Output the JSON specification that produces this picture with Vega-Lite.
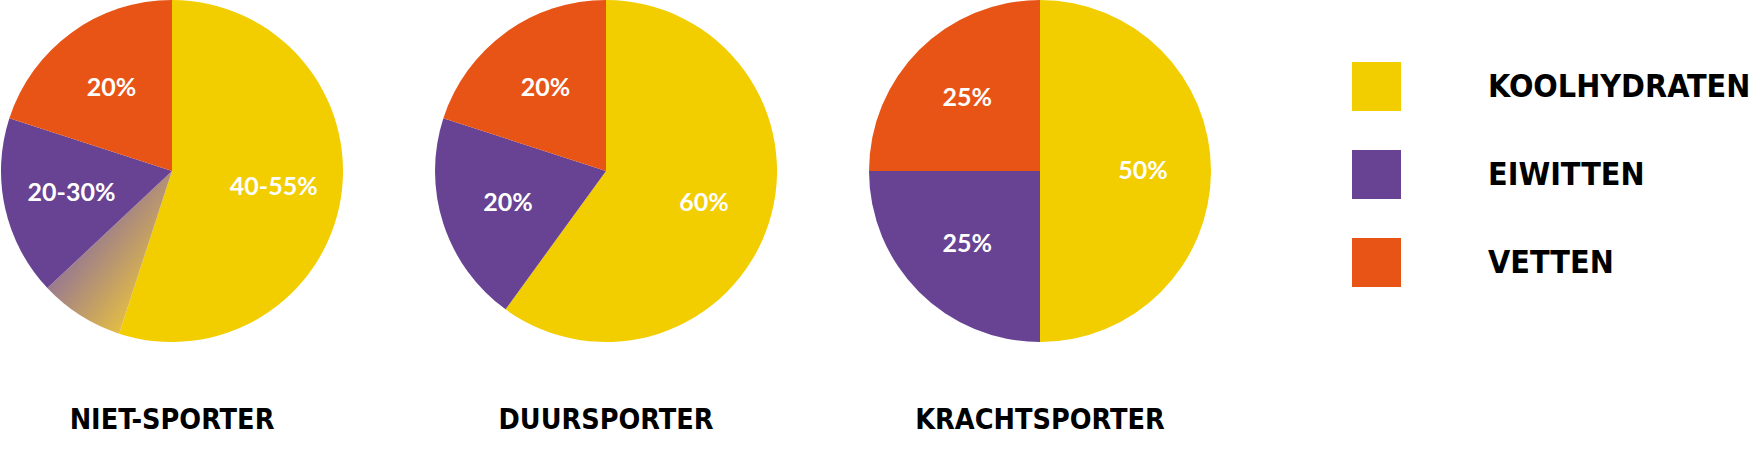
{
  "$schema": "https://vega.github.io/schema/vega-lite/v6.json",
  "background": "white",
  "padding": 0,
  "data": {
    "values": [
      {"groep": "NIET-SPORTER", "categorie": "KOOLHYDRATEN", "waarde": 55, "label": "40-55%", "volgorde": 1},
      {"groep": "NIET-SPORTER", "categorie": "overgang", "waarde": 8, "label": "", "volgorde": 2},
      {"groep": "NIET-SPORTER", "categorie": "EIWITTEN", "waarde": 17, "label": "20-30%", "volgorde": 3},
      {"groep": "NIET-SPORTER", "categorie": "VETTEN", "waarde": 20, "label": "20%", "volgorde": 4},
      {"groep": "DUURSPORTER", "categorie": "KOOLHYDRATEN", "waarde": 60, "label": "60%", "volgorde": 1},
      {"groep": "DUURSPORTER", "categorie": "EIWITTEN", "waarde": 20, "label": "20%", "volgorde": 3},
      {"groep": "DUURSPORTER", "categorie": "VETTEN", "waarde": 20, "label": "20%", "volgorde": 4},
      {"groep": "KRACHTSPORTER", "categorie": "KOOLHYDRATEN", "waarde": 50, "label": "50%", "volgorde": 1},
      {"groep": "KRACHTSPORTER", "categorie": "EIWITTEN", "waarde": 25, "label": "25%", "volgorde": 3},
      {"groep": "KRACHTSPORTER", "categorie": "VETTEN", "waarde": 25, "label": "25%", "volgorde": 4}
    ]
  },
  "facet": {
    "column": {
      "field": "groep",
      "type": "nominal",
      "sort": ["NIET-SPORTER", "DUURSPORTER", "KRACHTSPORTER"],
      "header": {
        "title": null,
        "labelOrient": "bottom",
        "labelPadding": 64,
        "labelFontSize": 28.5,
        "labelFont": "DejaVu Sans Condensed, DejaVu Sans, sans-serif",
        "labelFontWeight": "bold",
        "labelColor": "black"
      }
    }
  },
  "spacing": 90,
  "spec": {
    "width": 344,
    "height": 340,
    "encoding": {
      "theta": {"field": "waarde", "type": "quantitative", "stack": true},
      "order": {"field": "volgorde", "type": "quantitative"}
    },
    "layer": [
      {
        "mark": {"type": "arc", "outerRadius": 171},
        "encoding": {
          "color": {
            "condition": {
              "test": "datum.categorie === 'overgang'",
              "value": {
                "gradient": "linear",
                "x1": 0, "y1": 0, "x2": 1, "y2": 1,
                "stops": [
                  {"offset": 0, "color": "#6d4a94"},
                  {"offset": 0.4, "color": "#a08088"},
                  {"offset": 0.85, "color": "#eec63a"},
                  {"offset": 1, "color": "#f2cd00"}
                ]
              }
            },
            "field": "categorie",
            "type": "nominal",
            "scale": {
              "domain": ["KOOLHYDRATEN", "EIWITTEN", "VETTEN"],
              "range": ["#f2cd00", "#684393", "#e85415"]
            },
            "legend": {
              "title": null,
              "values": ["KOOLHYDRATEN", "EIWITTEN", "VETTEN"],
              "orient": "none",
              "legendX": 1352,
              "legendY": 61,
              "padding": 0,
              "symbolType": "square",
              "symbolSize": 2401,
              "symbolStrokeWidth": 0,
              "symbolOpacity": 1,
              "labelFontSize": 32,
              "labelFont": "DejaVu Sans Condensed, DejaVu Sans, sans-serif",
              "labelFontWeight": "bold",
              "labelColor": "black",
              "labelOffset": 87,
              "labelLimit": 400,
              "rowPadding": 39
            }
          }
        }
      },
      {
        "mark": {"type": "text", "fontSize": 25, "font": "Lato", "fontWeight": "bold", "fill": "white"},
        "encoding": {
          "text": {"field": "label", "type": "nominal"},
          "radius": {"condition": {"test": "datum.categorie === 'KOOLHYDRATEN'", "value": 86}, "value": 103}
        }
      }
    ]
  },
  "config": {
    "view": {"stroke": null}
  }
}
